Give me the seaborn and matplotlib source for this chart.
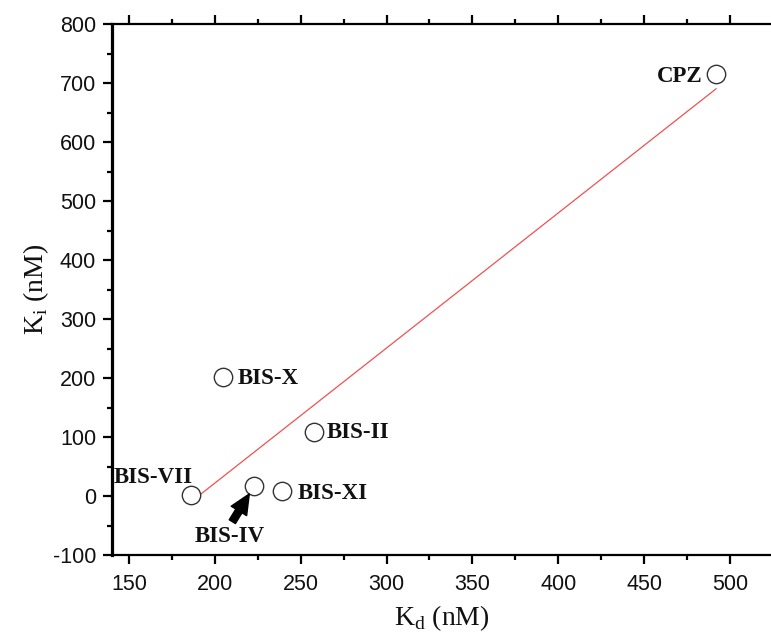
import matplotlib
matplotlib.use("Agg")
import matplotlib.pyplot as plt
import seaborn as sns
import pandas as pd
from matplotlib.ticker import MultipleLocator

compounds = ["CPZ", "BIS-X", "BIS-II", "BIS-VII", "BIS-IV", "BIS-XI"]
kd_nM = [492, 205, 258, 186, 223, 239]
ki_nM = [716, 202, 109, 3, 18, 9]

df = pd.DataFrame({"Kd": kd_nM, "Ki": ki_nM, "name": compounds})

sns.set_style("ticks")
plt.rcParams["font.family"] = ["Liberation Sans", "DejaVu Sans"]
plt.rcParams["axes.unicode_minus"] = False

DPI = 100
fig = plt.figure(figsize=(7.71, 6.39), dpi=DPI)
ax = fig.add_axes([112 / 771, (639 - 555.3) / 639, (771 - 112) / 771, (555.3 - 24.3) / 639])

sns.regplot(data=df, x="Kd", y="Ki", scatter=False, ci=None, ax=ax,
            line_kws=dict(color="#f25050", lw=0.9))
sns.scatterplot(data=df, x="Kd", y="Ki", ax=ax, s=175, facecolor="white",
                edgecolor="#333333", linewidth=1.0, zorder=3)

ax.set_xlim(140.1, 523.9)
ax.set_ylim(-100, 800)
ax.xaxis.set_major_locator(MultipleLocator(50))
ax.xaxis.set_minor_locator(MultipleLocator(25))
ax.yaxis.set_major_locator(MultipleLocator(100))
ax.yaxis.set_minor_locator(MultipleLocator(50))

ax.spines["right"].set_visible(False)
for s in ("left", "bottom", "top"):
    ax.spines[s].set_color("black")
ax.spines["left"].set_linewidth(2.3)
ax.spines["bottom"].set_linewidth(1.6)
ax.spines["top"].set_linewidth(1.6)
ax.tick_params(which="both", direction="out", top=True, right=False, width=1.6,
               color="black", labelcolor="#111111")
ax.tick_params(which="major", length=6.5, labelsize=15.5, pad=5)
ax.tick_params(which="minor", length=3.5)
ax.tick_params(axis="x", which="major", pad=7)

serif = ["Liberation Serif", "DejaVu Serif"]
ax.set_xlabel(r"K$_\mathregular{d}$ (nM)", fontsize=20, family=serif, labelpad=6,
              color="#111111")
ax.set_ylabel(r"K$_\mathregular{i}$ (nM)", fontsize=20, family=serif, labelpad=1,
              color="#111111")

px2pt = 72 / DPI
offsets = {
    "CPZ": (-14, -3, "right"),
    "BIS-X": (14, -1, "left"),
    "BIS-II": (12, -1, "left"),
    "BIS-VII": (2, 17, "right"),
    "BIS-IV": (-25, -51, "center"),
    "BIS-XI": (16, -3, "left"),
}
for name, x, y in zip(compounds, kd_nM, ki_nM):
    dx, dy, ha = offsets[name]
    ax.annotate(name, (x, y), xytext=(dx * px2pt, dy * px2pt), textcoords="offset points",
                ha=ha, va="center", fontsize=16.5, fontweight="bold", family=serif,
                color="#111111")

iv = compounds.index("BIS-IV")
ax.annotate("", xy=(kd_nM[iv], ki_nM[iv]), xycoords="data",
            xytext=(-22 * px2pt, -36 * px2pt), textcoords="offset points",
            arrowprops=dict(arrowstyle="simple,head_length=1.1,head_width=1.0,tail_width=0.4",
                            color="black", shrinkA=0, shrinkB=7, mutation_scale=13))

fig.savefig("out.png", dpi=DPI)
